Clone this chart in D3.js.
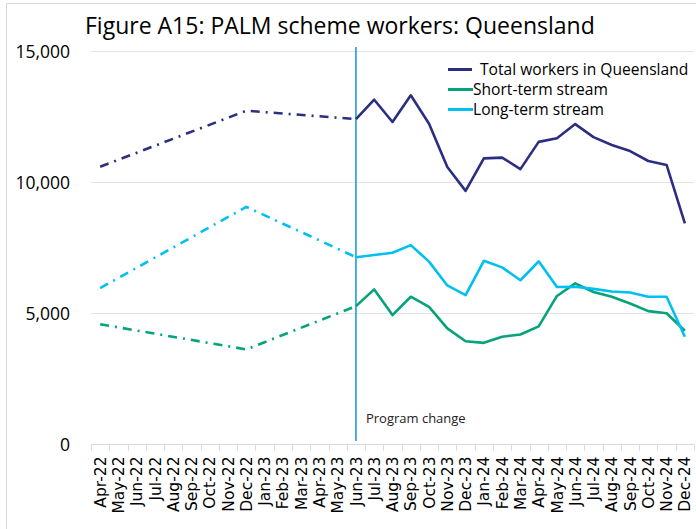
<!DOCTYPE html>
<html>
<head>
<meta charset="utf-8">
<script src="https://cdn.jsdelivr.net/npm/d3@7"></script>
<style>
  body { margin: 0; background: #fff; }
  svg { display: block; font-family: "Open Sans", "DejaVu Sans", sans-serif; }
</style>
</head>
<body>
<div class="container"></div>
<script>
(function(){

// categories: one per month
var months = ["Apr-22", "May-22", "Jun-22", "Jul-22", "Aug-22", "Sep-22", "Oct-22", "Nov-22", "Dec-22",
  "Jan-23", "Feb-23", "Mar-23", "Apr-23", "May-23", "Jun-23", "Jul-23", "Aug-23", "Sep-23", "Oct-23",
  "Nov-23", "Dec-23", "Jan-24", "Feb-24", "Mar-24", "Apr-24", "May-24", "Jun-24", "Jul-24", "Aug-24",
  "Sep-24", "Oct-24", "Nov-24", "Dec-24"];

// null = no monthly figure (only Apr-22, Dec-22 and Jun-23 before the program change)
var totalWorkers = [10600, null, null, null, null, null, null, null, 12740,
  null, null, null, null, null, 12420, 13160, 12310, 13330, 12240,
  10590, 9680, 10920, 10950, 10510, 11550, 11690, 12230, 11730, 11430,
  11200, 10820, 10670, 8440];

var shortTerm = [4590, null, null, null, null, null, null, null, 3630,
  null, null, null, null, null, 5280, 5920, 4940, 5640, 5250,
  4430, 3940, 3880, 4110, 4200, 4510, 5670, 6150, 5820, 5640,
  5380, 5090, 5010, 4340];

var longTerm = [5970, null, null, null, null, null, null, null, 9070,
  null, null, null, null, null, 7150, 7230, 7320, 7610, 6980,
  6070, 5700, 7010, 6760, 6270, 6990, 6010, 6020, 5940, 5840,
  5800, 5640, 5640, 4110];

var yTicks = [0, 5000, 10000, 15000];
var changeMonth = "Jun-23";

var series = [
  {name: "Total workers in Queensland", values: totalWorkers, color: "#2C2E80"},
  {name: "Short-term stream", values: shortTerm, color: "#05A37B"},
  {name: "Long-term stream", values: longTerm, color: "#00C0F2"}
];

var width = 696,
    height = 529;

var svg = d3.select(".container")
  .append("svg")
  .attr("width", width)
  .attr("height", height);

// chart area border
svg.append("rect")
  .attr("x", 6.5)
  .attr("y", 3.5)
  .attr("width", width + 20)
  .attr("height", height + 20)
  .attr("fill", "none")
  .attr("stroke", "#D9D9D9");

var x = d3.scaleBand()
  .domain(months)
  .range([91, 694]);

var y = d3.scaleLinear()
  .domain([0, 15000])
  .range([444.5, 51.5]);

// gridlines
svg.append("g")
  .selectAll("line")
  .data(yTicks.slice(1))
  .enter()
  .append("line")
  .attr("x1", 91)
  .attr("x2", 694)
  .attr("y1", function(d){ return y(d); })
  .attr("y2", function(d){ return y(d); })
  .attr("stroke", "#E3E3E3")
  .attr("stroke-width", 1);

// y axis labels
var yAxis = d3.axisLeft(y)
  .tickValues(yTicks)
  .tickSize(0)
  .tickPadding(0)
  .tickFormat(d3.format(","));

var yg = svg.append("g")
  .attr("transform", "translate(70,0)")
  .call(yAxis);
yg.select(".domain").remove();
yg.selectAll("text")
  .attr("font-family", "Open Sans")
  .attr("font-size", 17.5)
  .attr("fill", "#000");

// x axis: ticks between categories
var xg = svg.append("g")
  .attr("transform", "translate(0,444.5)");

xg.append("line")
  .attr("x1", 91)
  .attr("x2", 694)
  .attr("stroke", "#D9D9D9");

xg.selectAll(".tick")
  .data(months.concat(["end"]))
  .enter()
  .append("line")
  .attr("x1", function(d, i){ return Math.round(91 + i * x.step()) + 0.5; })
  .attr("x2", function(d, i){ return Math.round(91 + i * x.step()) + 0.5; })
  .attr("y1", 0)
  .attr("y2", 6)
  .attr("stroke", "#D9D9D9");

xg.selectAll(".label")
  .data(months)
  .enter()
  .append("text")
  .attr("class", "label")
  .attr("transform", function(d){
    return "translate(" + (x(d) + x.bandwidth() / 2) + ",12) rotate(-90)";
  })
  .attr("text-anchor", "end")
  .attr("dy", "0.36em")
  .attr("font-family", "DejaVu Sans")
  .attr("font-size", 15.5)
  .attr("fill", "#000")
  .text(function(d){ return d; });

// program change marker
var cx = x(changeMonth) + x.bandwidth() / 2;
svg.append("line")
  .attr("x1", cx)
  .attr("x2", cx)
  .attr("y1", 47)
  .attr("y2", 441)
  .attr("stroke", "#1C9FD6")
  .attr("stroke-width", 1.6);

svg.append("text")
  .attr("x", cx + 10)
  .attr("y", 423)
  .attr("font-size", 13)
  .attr("fill", "#222")
  .text("Program change");

// lines
var changeIdx = months.indexOf(changeMonth);

var line = d3.line()
  .x(function(d){ return x(d.m) + x.bandwidth() / 2; })
  .y(function(d){ return y(d.v); });

series.forEach(function(s){
  var pts = s.values.map(function(v, i){ return {m: months[i], v: v, i: i}; })
    .filter(function(d){ return d.v !== null; });

  var before = pts.filter(function(d){ return d.i <= changeIdx; });
  var after = pts.filter(function(d){ return d.i >= changeIdx; });

  svg.append("path")
    .datum(before)
    .attr("d", line)
    .attr("fill", "none")
    .attr("stroke", s.color)
    .attr("stroke-width", 2.6)
    .attr("stroke-dasharray", "9,6,2,6");

  svg.append("path")
    .datum(after)
    .attr("d", line)
    .attr("fill", "none")
    .attr("stroke", s.color)
    .attr("stroke-width", 2.6)
    .attr("stroke-linejoin", "round");
});

// legend
var legend = svg.append("g");
var legendRows = [
  {y: 69.5, x1: 448, x2: 472, tx: 480},
  {y: 89.5, x1: 448, x2: 473, tx: 473},
  {y: 109.5, x1: 448, x2: 473, tx: 473}
];

series.forEach(function(s, i){
  var r = legendRows[i];
  legend.append("line")
    .attr("x1", r.x1)
    .attr("x2", r.x2)
    .attr("y1", r.y)
    .attr("y2", r.y)
    .attr("stroke", s.color)
    .attr("stroke-width", 3);
  legend.append("text")
    .attr("x", r.tx)
    .attr("y", r.y)
    .attr("dy", "0.35em")
    .attr("font-size", 15.6)
    .attr("fill", "#000")
    .text(s.name);
});

// title
svg.append("text")
  .attr("x", 85)
  .attr("y", 34)
  .attr("font-size", 23)
  .attr("fill", "#000")
  .text("Figure A15: PALM scheme workers: Queensland");

})();
</script>
</body>
</html>
